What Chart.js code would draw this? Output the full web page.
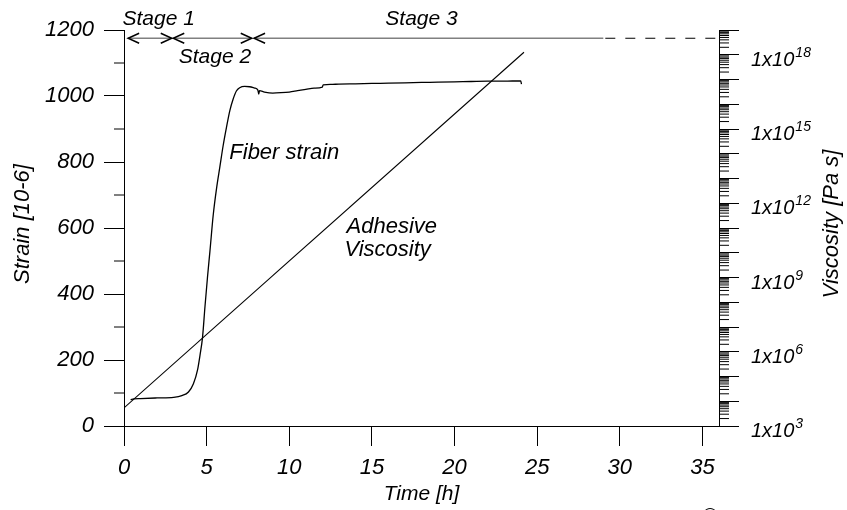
<!DOCTYPE html>
<html>
<head>
<meta charset="utf-8">
<script src="https://cdn.jsdelivr.net/npm/chart.js@4.4.1/dist/chart.umd.min.js"></script>
<style>
  html, body { margin: 0; padding: 0; background: #fff; }
  #wrap { width: 847px; height: 510px; }
</style>
</head>
<body>
<div id="wrap"><canvas id="chart-strain" width="847" height="510"></canvas></div>
<script>
// fiber strain read over time (hours, microstrain)
var fiberTime = [0.4, 0.6, 1.0, 2.0, 3.0, 3.5, 3.9, 4.2, 4.45, 4.6, 4.75, 4.9, 5.05, 5.2, 5.4, 5.6,
  5.8, 6.0, 6.2, 6.4, 6.6, 6.8, 7.0, 7.3, 7.6, 7.9, 8.1, 8.15, 8.2, 8.5, 9.0, 9.5, 10.0, 10.5,
  11.0, 11.5, 12.0, 12.05, 12.5, 13, 14, 15, 16, 17, 18, 19, 20, 21, 22, 23, 24, 24.05];
var fiberStrain = [80, 82, 83, 85, 87, 92, 103, 128, 170, 215, 268, 362, 450, 530, 640, 720,
  785, 850, 905, 955, 990, 1015, 1025, 1029, 1028, 1024, 1018, 1006, 1016, 1012, 1009, 1010, 1012, 1016,
  1020, 1024, 1027, 1034, 1035, 1036, 1037, 1038, 1039, 1040, 1041, 1042, 1043, 1044, 1045, 1045, 1046, 1036];

// adhesive viscosity, straight on the log axis (hours, Pa s)
var viscTime = [0, 24.2];
var viscValue = [5.4e3, 1.26e18];

// axis ticks
var timeTicks = [0, 5, 10, 15, 20, 25, 30, 35];
var strainTicks = [0, 200, 400, 600, 800, 1000, 1200];
var strainMinor = [100, 300, 500, 700, 900, 1100];
var viscDecades = [3, 4, 5, 6, 7, 8, 9, 10, 11, 12, 13, 14, 15, 16, 17, 18, 19];
var viscLabelDecades = [3, 6, 9, 12, 15, 18];

// stage arrows across the top
var stageNames = ['Stage 1', 'Stage 2', 'Stage 3'];
var stageStart = [0.25, 2.98, 7.87];
var stageEnd = [2.89, 7.73, 36];
var stageLabelTime = [2.1, 5.5, 18];
var stageDashFrom = 29;
var stageLevel = 1175;

var FONT = "'Liberation Sans', Arial, sans-serif";
Chart.defaults.font.family = FONT;
Chart.defaults.color = '#000';

function xy(xs, ys) {
  return xs.map(function (v, i) { return { x: v, y: ys[i] }; });
}

function chevron(ctx, px, py, dir) {
  ctx.beginPath();
  ctx.moveTo(px - dir * 11, py - 5);
  ctx.lineTo(px, py);
  ctx.lineTo(px - dir * 11, py + 5);
  ctx.stroke();
}

function sideTitle(ctx, text, px, py) {
  ctx.save();
  ctx.translate(px, py);
  ctx.rotate(-Math.PI / 2);
  ctx.textAlign = 'center';
  ctx.textBaseline = 'middle';
  ctx.font = 'italic 22px ' + FONT;
  ctx.fillText(text, 0, 0);
  ctx.restore();
}

var decorPlugin = {
  id: 'decor',
  afterDraw: function (chart) {
    var ctx = chart.ctx;
    var x = chart.scales.x, y = chart.scales.y, y1 = chart.scales.y1;
    var area = chart.chartArea;
    ctx.save();
    ctx.strokeStyle = '#000';
    ctx.fillStyle = '#000';
    ctx.lineWidth = 1;

    // short ticks on the strain axis
    strainMinor.forEach(function (v) {
      var py = y.getPixelForValue(v);
      ctx.beginPath();
      ctx.moveTo(area.left - 10, py);
      ctx.lineTo(area.left, py);
      ctx.stroke();
    });

    // log minor ticks on the viscosity axis
    for (var d = 3; d < 19; d++) {
      for (var k = 2; k <= 9; k++) {
        var py = y1.getPixelForValue(k * Math.pow(10, d));
        ctx.beginPath();
        ctx.moveTo(area.right, py);
        ctx.lineTo(area.right + 10, py);
        ctx.stroke();
      }
    }

    // viscosity labels with exponents
    viscLabelDecades.forEach(function (d) {
      var py = y1.getPixelForValue(Math.pow(10, d));
      ctx.font = 'italic 20px ' + FONT;
      ctx.textAlign = 'left';
      ctx.textBaseline = 'alphabetic';
      var base = '1x10';
      var px = area.right + 32;
      ctx.fillText(base, px, py + 11);
      var w = ctx.measureText(base).width;
      ctx.font = 'italic 14px ' + FONT;
      ctx.fillText(String(d), px + w + 1, py + 2);
    });

    // axis titles on both sides, read upwards
    var midY = (area.top + area.bottom) / 2 - 4;
    sideTitle(ctx, 'Strain [10-6]', 23, midY);
    sideTitle(ctx, 'Viscosity [Pa s]', chart.width - 15, midY);

    // stage arrows
    var sy = y.getPixelForValue(stageLevel);
    ctx.lineWidth = 1.5;
    stageNames.forEach(function (name, i) {
      var a = x.getPixelForValue(stageStart[i]);
      var b = x.getPixelForValue(i === stageNames.length - 1 ? stageDashFrom : stageEnd[i]);
      ctx.strokeStyle = '#808080';
      ctx.beginPath();
      ctx.moveTo(a, sy);
      ctx.lineTo(b, sy);
      ctx.stroke();
      ctx.strokeStyle = '#000';
      chevron(ctx, a, sy, -1);
      if (i < stageNames.length - 1) chevron(ctx, b, sy, 1);
    });
    ctx.setLineDash([10, 10]);
    ctx.lineWidth = 1;
    ctx.beginPath();
    ctx.moveTo(x.getPixelForValue(stageDashFrom) + 2, sy);
    ctx.lineTo(x.getPixelForValue(stageEnd[2]), sy);
    ctx.stroke();
    ctx.setLineDash([]);

    ctx.font = 'italic 21px ' + FONT;
    ctx.textAlign = 'center';
    ctx.textBaseline = 'alphabetic';
    stageNames.forEach(function (name, i) {
      var below = i === 1;
      ctx.fillText(name, x.getPixelForValue(stageLabelTime[i]), below ? sy + 25 : sy - 13);
    });

    // curve captions
    ctx.font = 'italic 22px ' + FONT;
    ctx.fillText('Fiber strain', x.getPixelForValue(9.7), y.getPixelForValue(810));
    ctx.fillText('Adhesive', x.getPixelForValue(16.2), y.getPixelForValue(586));
    ctx.fillText('Viscosity', x.getPixelForValue(15.95), y.getPixelForValue(515));

    ctx.font = '20px ' + FONT;
    ctx.fillText('\u00a9', chart.width - 137, chart.height + 12);
    ctx.restore();
  }
};

var ctxStrain = document.getElementById('chart-strain').getContext('2d');

var strainChart = new Chart(ctxStrain, {
  type: 'line',
  data: {
    datasets: [{
      label: 'Fiber strain',
      data: xy(fiberTime, fiberStrain),
      yAxisID: 'y',
      borderColor: '#000',
      borderWidth: 1.3,
      pointRadius: 0,
      cubicInterpolationMode: 'monotone'
    }, {
      label: 'Adhesive Viscosity',
      data: xy(viscTime, viscValue),
      yAxisID: 'y1',
      borderColor: '#000',
      borderWidth: 1.1,
      pointRadius: 0
    }]
  },
  options: {
    responsive: false,
    animation: false,
    devicePixelRatio: 1,
    layout: { padding: { top: 30, left: 0, right: 0, bottom: 0 } },
    plugins: {
      legend: { display: false },
      tooltip: { enabled: false }
    },
    scales: {
      x: {
        type: 'linear',
        min: 0,
        max: 36,
        afterFit: function (s) { s.height = 84; },
        afterBuildTicks: function (s) { s.ticks = timeTicks.map(function (v) { return { value: v }; }); },
        ticks: { font: { size: 22, style: 'italic' }, padding: 9, color: '#000', callback: function (v) { return String(v); } },
        grid: { drawOnChartArea: false, tickLength: 20, color: '#000' },
        border: { color: '#000', width: 1 },
        title: { display: true, text: 'Time [h]', font: { size: 21, style: 'italic' }, padding: { top: 0, bottom: 3 } }
      },
      y: {
        type: 'linear',
        position: 'left',
        min: 0,
        max: 1200,
        afterFit: function (s) { s.width = 124; },
        afterBuildTicks: function (s) { s.ticks = strainTicks.map(function (v) { return { value: v }; }); },
        ticks: { font: { size: 22, style: 'italic' }, padding: 10, color: '#000', callback: function (v) { return String(v); } },
        grid: { drawOnChartArea: false, tickLength: 20, color: '#000' },
        border: { color: '#000', width: 1 }
      },
      y1: {
        type: 'logarithmic',
        position: 'right',
        min: 1e3,
        max: 1e19,
        afterFit: function (s) { s.width = 128; },
        afterBuildTicks: function (s) { s.ticks = viscDecades.map(function (d) { return { value: Math.pow(10, d) }; }); },
        ticks: { display: false },
        grid: { drawOnChartArea: false, tickLength: 20, color: '#000' },
        border: { color: '#000', width: 1 }
      }
    }
  },
  plugins: [decorPlugin]
});
</script>
</body>
</html>
